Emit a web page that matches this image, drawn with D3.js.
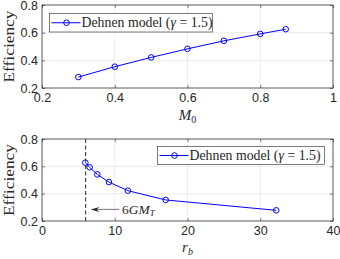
<!DOCTYPE html>
<html><head><meta charset="utf-8">
<script src="https://cdnjs.cloudflare.com/ajax/libs/d3/7.8.5/d3.min.js"></script>
<style>body{margin:0;background:#fff}svg{display:block}</style>
</head><body>
<svg id="c" width="340" height="259"></svg>
<script>
const m0 = [0.3, 0.4, 0.5, 0.6, 0.7, 0.8, 0.87];
const efficiencyTop = [0.279, 0.354, 0.421, 0.483, 0.541, 0.591, 0.625];
const rb = [5.96, 6.55, 7.6, 9.2, 11.8, 17.0, 32.2];
const efficiencyBottom = [0.627, 0.593, 0.541, 0.485, 0.422, 0.354, 0.278];
const xTicksTop = [0.2, 0.4, 0.6, 0.8, 1];
const xTicksBottom = [0, 10, 20, 30, 40];
const yTicks = [0.2, 0.4, 0.6, 0.8];
const cutoff = 6;

const svg = d3.select("#c");
const blue = "#0000ff";
const serif = "'Liberation Serif', 'DejaVu Serif', serif";
const sans = "'Liberation Sans', Arial, sans-serif";

function panel(opt) {
  const {x0, x1, y0, y1, xd, xt, xs, ys, xlab, xlabSub, subItalic, xlabY, legend} = opt;
  const x = d3.scaleLinear().domain(xd).range([x0, x1]);
  const y = d3.scaleLinear().domain([0.2, 0.8]).range([y1, y0]);
  const g = svg.append("g");
  g.selectAll(".gx").data(xt).enter().append("line")
    .attr("x1", d => x(d)).attr("x2", d => x(d)).attr("y1", y0).attr("y2", y1)
    .attr("stroke", "#e6e6e6").attr("stroke-width", 0.8);
  g.selectAll(".gy").data(yTicks).enter().append("line")
    .attr("y1", d => y(d)).attr("y2", d => y(d)).attr("x1", x0).attr("x2", x1)
    .attr("stroke", "#e6e6e6").attr("stroke-width", 0.8);
  const ax = d3.axisBottom(x).tickValues(xt).tickSizeInner(-3).tickSizeOuter(0).tickPadding(5).tickFormat(d3.format("~g"));
  const ay = d3.axisLeft(y).tickValues(yTicks).tickSizeInner(-3).tickSizeOuter(0).tickPadding(4).tickFormat(d3.format(".1f"));
  const axT = d3.axisTop(x).tickValues(xt).tickSizeInner(-3).tickSizeOuter(0).tickFormat("");
  const ayR = d3.axisRight(y).tickValues(yTicks).tickSizeInner(-3).tickSizeOuter(0).tickFormat("");
  [[ax, `translate(0,${y1})`], [ay, `translate(${x0},0)`], [axT, `translate(0,${y0})`], [ayR, `translate(${x1},0)`]].forEach(([a, t]) => {
    const s = g.append("g").attr("transform", t).call(a);
    s.select(".domain").remove();
    s.selectAll("line").attr("stroke", "#262626").attr("stroke-width", 0.6);
    s.selectAll("text").attr("font-family", sans).attr("font-size", 12.5).attr("fill", "#262626");
  });
  g.append("rect").attr("x", x0).attr("y", y0).attr("width", x1 - x0).attr("height", y1 - y0)
    .attr("fill", "none").attr("stroke", "#262626").attr("stroke-width", 0.7);
  g.append("text").attr("transform", `translate(13.5,${(y0 + y1) / 2}) rotate(-90)`)
    .attr("text-anchor", "middle").attr("font-family", serif).attr("font-size", 15.5).attr("fill", "#262626")
    .attr("textLength", 72).attr("lengthAdjust", "spacingAndGlyphs")
    .text("Efficiency");
  const xl = g.append("text").attr("x", (x0 + x1) / 2).attr("y", xlabY).attr("text-anchor", "middle")
    .attr("font-family", serif).attr("font-size", 15).attr("fill", "#262626");
  xl.append("tspan").attr("font-style", "italic").text(xlab);
  xl.append("tspan").attr("font-size", 10).attr("dy", 3).attr("font-style", subItalic ? "italic" : "normal").text(xlabSub);
  const pts = xs.map((d, i) => [d, ys[i]]);
  g.append("path").datum(pts).attr("fill", "none").attr("stroke", blue).attr("stroke-width", 1)
    .attr("d", d3.line().x(d => x(d[0])).y(d => y(d[1])));
  g.selectAll(".pt").data(pts).enter().append("circle")
    .attr("cx", d => x(d[0])).attr("cy", d => y(d[1])).attr("r", 2.8)
    .attr("fill", "none").attr("stroke", blue).attr("stroke-width", 1);
  const L = legend;
  g.append("rect").attr("x", L.x).attr("y", L.y).attr("width", L.w).attr("height", L.h)
    .attr("fill", "#fff").attr("stroke", "#262626").attr("stroke-width", 0.6);
  const ly = L.y + L.h / 2;
  g.append("line").attr("x1", L.x + 2).attr("x2", L.x + 31).attr("y1", ly).attr("y2", ly)
    .attr("stroke", blue).attr("stroke-width", 1);
  g.append("circle").attr("cx", L.x + 17).attr("cy", ly).attr("r", 2.8)
    .attr("fill", "none").attr("stroke", blue).attr("stroke-width", 1);
  const lt = g.append("text").attr("x", L.x + 32).attr("y", ly + 4.5)
    .attr("font-family", serif).attr("font-size", 14).attr("fill", "#262626")
    .attr("textLength", 131).attr("lengthAdjust", "spacingAndGlyphs");
  lt.append("tspan").text("Dehnen model (");
  lt.append("tspan").attr("font-style", "italic").text("γ");
  lt.append("tspan").text(" = 1.5)");
  return {x, y, g};
}

panel({x0: 42, x1: 333, y0: 5, y1: 88, xd: [0.2, 1], xt: xTicksTop, xs: m0, ys: efficiencyTop,
  xlab: "M", xlabSub: "0", subItalic: false, xlabY: 120, legend: {x: 49.5, y: 13.5, w: 163, h: 18.5}});
const p2 = panel({x0: 42, x1: 333, y0: 139, y1: 221, xd: [0, 40], xt: xTicksBottom, xs: rb, ys: efficiencyBottom,
  xlab: "r", xlabSub: "b", subItalic: true, xlabY: 252, legend: {x: 157.5, y: 146.5, w: 167, h: 18}});

p2.g.append("line").attr("x1", p2.x(cutoff)).attr("x2", p2.x(cutoff)).attr("y1", p2.y(0.8)).attr("y2", p2.y(0.2))
  .attr("stroke", "#262626").attr("stroke-width", 1).attr("stroke-dasharray", "4,2.5");
const ay0 = p2.y(0.285);
p2.g.append("line").attr("x1", p2.x(10.6)).attr("x2", p2.x(7.4)).attr("y1", ay0).attr("y2", ay0)
  .attr("stroke", "#555").attr("stroke-width", 0.8);
p2.g.append("path")
  .attr("d", `M${p2.x(6.7)},${ay0} L${p2.x(7.9)},${ay0 - 2.5} L${p2.x(7.5)},${ay0} L${p2.x(7.9)},${ay0 + 2.5} Z`)
  .attr("fill", "#262626");
const at = p2.g.append("text").attr("x", p2.x(11.0)).attr("y", ay0 + 4.5)
  .attr("font-family", serif).attr("font-size", 13.5).attr("fill", "#262626");
at.append("tspan").text("6");
at.append("tspan").attr("font-style", "italic").text("GM");
at.append("tspan").attr("font-style", "italic").attr("font-size", 9).attr("dy", 2.5).text("T");
</script>
</body></html>
